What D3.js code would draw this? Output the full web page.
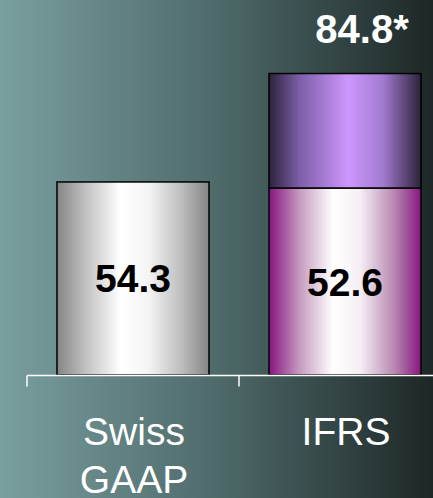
<!DOCTYPE html>
<html>
<head>
<meta charset="utf-8">
<script src="https://cdn.jsdelivr.net/npm/d3@7"></script>
<style>
  html, body { margin: 0; padding: 0; background: #1e2828; }
  svg { display: block; font-family: "Liberation Sans", Arial, sans-serif; }
</style>
</head>
<body>
<svg id="chart" width="433" height="498"></svg>
<script>
// Accounting standards compared
const categories = ["Swiss GAAP", "IFRS"];
const categoryLines = [["Swiss", "GAAP"], ["IFRS"]];
// Base segment per standard, plus the extra IFRS segment stacked on top
const baseValues = [54.3, 52.6];
const extraValues = [0, 32.2];
const totalLabels = ["", "84.8*"];

const W = 433, H = 498;
const svg = d3.select("#chart");
const defs = svg.append("defs");

// Background: horizontal teal-to-dark wash
const bg = defs.append("linearGradient").attr("id", "bg").attr("x1", 0).attr("x2", 1).attr("y1", 0).attr("y2", 0);
bg.append("stop").attr("offset", 0).attr("stop-color", "#7a9f9f");
bg.append("stop").attr("offset", 0.5).attr("stop-color", "#4f6a6a");
bg.append("stop").attr("offset", 1).attr("stop-color", "#1d2727");
svg.append("rect").attr("width", W).attr("height", H).attr("fill", "url(#bg)");

// Cylinder-like shading for each bar segment
function shade(id, stops) {
  const g = defs.append("linearGradient").attr("id", id).attr("x1", 0).attr("x2", 1).attr("y1", 0).attr("y2", 0);
  stops.forEach(([o, c]) => g.append("stop").attr("offset", o).attr("stop-color", c));
}
shade("gray", [[0, "#858585"], [0.2, "#c4c4c4"], [0.42, "#ffffff"], [0.6, "#f4f4f4"], [0.82, "#bdbdbd"], [1, "#858585"]]);
shade("magenta", [[0, "#87157f"], [0.2, "#c59ac0"], [0.42, "#ffffff"], [0.6, "#f5eef4"], [0.82, "#b98ab3"], [1, "#87157f"]]);
shade("lavender", [[0, "#2c223a"], [0.2, "#7d5ea8"], [0.52, "#cd97fd"], [0.75, "#a27bd0"], [1, "#2c223a"]]);

const x = d3.scaleBand().domain(categories).range([27, 451]).padding(0);
const y = d3.scaleLinear().domain([0, 100]).range([375, 19.5]);
const barW = x.bandwidth() * 0.717;
const cx = c => x(c) + x.bandwidth() / 2;

const data = categories.map((c, i) => ({ c, base: baseValues[i], extra: extraValues[i], total: totalLabels[i], lines: categoryLines[i] }));

// Base segments
svg.selectAll("rect.base").data(data).join("rect")
  .attr("class", "base")
  .attr("x", d => cx(d.c) - barW / 2)
  .attr("width", barW)
  .attr("y", d => y(d.base))
  .attr("height", d => y(0) - y(d.base))
  .attr("fill", (d, i) => i === 0 ? "url(#gray)" : "url(#magenta)")
  .attr("stroke", "#000").attr("stroke-width", 1.5);

// Stacked extra segments
svg.selectAll("rect.extra").data(data.filter(d => d.extra > 0)).join("rect")
  .attr("class", "extra")
  .attr("x", d => cx(d.c) - barW / 2)
  .attr("width", barW)
  .attr("y", d => y(d.base + d.extra))
  .attr("height", d => y(d.base) - y(d.base + d.extra))
  .attr("fill", "url(#lavender)")
  .attr("stroke", "#000").attr("stroke-width", 1.5);

// Value labels inside the base segments
svg.selectAll("text.val").data(data).join("text")
  .attr("class", "val")
  .attr("x", d => cx(d.c))
  .attr("y", d => (y(0) + y(d.base)) / 2 + 14)
  .attr("text-anchor", "middle")
  .attr("font-weight", "bold").attr("font-size", 39).attr("fill", "#000")
  .text(d => d.base.toFixed(1));

// Totals above the stacked bars
svg.selectAll("text.total").data(data.filter(d => d.total)).join("text")
  .attr("class", "total")
  .attr("x", d => cx(d.c) + 17)
  .attr("y", d => y(d.base + d.extra) - 31)
  .attr("text-anchor", "middle")
  .attr("font-weight", "bold").attr("font-size", 40).attr("fill", "#fff")
  .text(d => d.total);

// Category axis
const axis = svg.append("g").attr("transform", "translate(0,375.5)")
  .call(d3.axisBottom(x).tickSize(0).tickFormat(""));
axis.select(".domain").attr("stroke", "#fff").attr("stroke-width", 1.5).attr("d", "M27,0H451");
axis.selectAll(".tick").remove();
axis.selectAll("line.sep").data(categories).join("line")
  .attr("class", "sep")
  .attr("x1", d => x(d)).attr("x2", d => x(d))
  .attr("y1", 0).attr("y2", 11)
  .attr("stroke", "#fff").attr("stroke-width", 1.5);

// Category names, possibly on two lines
const cat = svg.selectAll("text.cat").data(data).join("text")
  .attr("class", "cat")
  .attr("text-anchor", "middle")
  .attr("font-size", 39).attr("fill", "#fff");
cat.selectAll("tspan").data(d => d.lines.map(t => ({ t, d }))).join("tspan")
  .attr("x", o => cx(o.d.c) + 1)
  .attr("y", (o, i) => 445 + i * 48)
  .text(o => o.t);
</script>
</body>
</html>
